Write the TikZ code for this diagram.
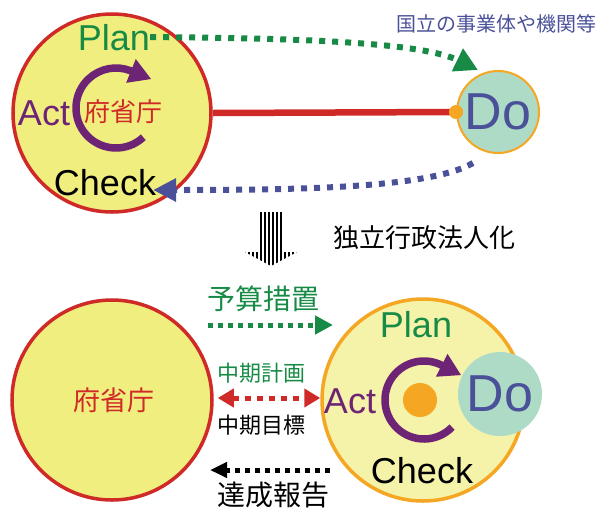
\documentclass[tikz,border=0pt]{standalone}
\usepackage{fontspec}
\setmainfont{Liberation Sans}
\newfontfamily\jpfont{Noto Sans CJK JP}
\usetikzlibrary{arrows.meta}
\definecolor{cyellow}{HTML}{F1EE80}
\definecolor{lyellow}{HTML}{F5F3A9}
\definecolor{cred}{HTML}{CF2A27}
\definecolor{cgreen}{HTML}{178B45}
\definecolor{cpurple}{HTML}{6E2474}
\definecolor{cblue}{HTML}{4A5199}
\definecolor{corange}{HTML}{F5A623}
\definecolor{cteal}{HTML}{AEDBC6}
\begin{document}
\begin{tikzpicture}[x=1pt,y=-1pt,
  lbl/.style={inner sep=0pt, anchor=base, font=\fontsize{#1pt}{#1pt}\selectfont},
  jtxt/.style={inner sep=0pt, font=\jpfont\fontsize{#1pt}{#1pt}\selectfont},
  bigcircle/.style={circle, line width=3.5pt, inner sep=0pt},
  cyclearrow/.style={cpurple, line width=7.5pt, -{Triangle[length=22pt,width=24pt]}},
  bigdots/.style={line width=6pt, dash pattern=on 6pt off 7pt},
  smalldots/.style={line width=5pt, dash pattern=on 5pt off 5pt}
]
\useasboundingbox (0,0) rectangle (601,509);

% ---------- top part ----------
\node[bigcircle, draw=cred, fill=cyellow, minimum size=198pt] (c1) at (112,113) {};
\draw[cyclearrow] (116,108) ++(47:40) arc[start angle=47, end angle=292, radius=40] -- ++(22:22);
\node[lbl=36, text=cgreen] (plan1) at (114,50) {Plan};
\node[lbl=36, text=cpurple] (act1) at (44,125) {Act};
\node[lbl=36] (check1) at (105,195) {Check};
\node[jtxt=26, text=cred] (fsc1) at (123,112) {府省庁};

\node[circle, draw=corange, line width=2pt, fill=cteal, minimum size=82pt, inner sep=0pt,
      text=cblue, font=\fontsize{52pt}{52pt}\selectfont] (do1) at (498,112) {Do};
\draw[cred, line width=6.5pt] (c1.east) -- (do1.west);
\fill[corange] (do1.west) circle (7);

\node[jtxt=20, text=cblue] (lab1) at (496,24) {国立の事業体や機関等};

\coordinate (g1) at (478,70);
\draw[cgreen, bigdots, -{Triangle[length=23pt,width=24pt]}]
  (plan1.east) .. controls (320,38) and (425,44) .. (g1);

\coordinate (b0) at (473,163);
\coordinate (b1) at (153,190);
\draw[cblue, bigdots, -{Triangle[length=23pt,width=22pt]}]
  (b0) .. controls (430,188) and (300,190) .. (b1);

% ---------- hatched arrow ----------
\begin{scope}
\clip (260,212) -- (282,212) -- (282,252) -- (297,252) -- (271,266) -- (245,252) -- (260,252) -- cycle;
\foreach \x in {245,249,...,297} \draw[line width=1.6pt] (\x,205) -- (\x,270);
\end{scope}
\node[jtxt=26] (t1) at (424,238) {独立行政法人化};

% ---------- bottom part ----------
\node[bigcircle, draw=cred, fill=cyellow, minimum size=200pt] (c2) at (112,400) {};
\node[jtxt=27, text=cred] (fsc2) at (114,400) {府省庁};

\node[bigcircle, draw=corange, fill=lyellow, minimum size=202pt] (c3) at (423,400) {};
\node[circle, fill=corange, minimum size=34pt, inner sep=0pt] (dot2) at (420,400) {};
\draw[cyclearrow] (424,400) ++(44:39) arc[start angle=44, end angle=297, radius=39] -- ++(27:22);
\node[lbl=36, text=cgreen] (plan2) at (416,337) {Plan};
\node[lbl=36, text=cpurple] (act2) at (350,413) {Act};
\node[lbl=36] (check2) at (422,483) {Check};
\node[circle, fill=cteal, minimum size=84pt, inner sep=0pt,
      text=cblue, font=\fontsize{52pt}{52pt}\selectfont] (do2) at (500,394) {Do};

\node[jtxt=28, text=cgreen] (yosan) at (263,299) {予算措置};
\coordinate (ga) at (208,325);
\coordinate (gb) at (333,325);
\draw[cgreen, smalldots, -{Triangle[length=18pt,width=18pt]}] (ga) -- (gb);

\node[jtxt=22, text=cgreen] (keikaku) at (261,373) {中期計画};
\draw[cred, line width=5pt, dash pattern=on 6pt off 6pt,
      {Triangle[length=16pt,width=18pt]}-{Triangle[length=16pt,width=18pt]}]
  ([xshift=4pt,yshift=2pt]c2.east) -- ([yshift=2pt]c3.west);
\node[jtxt=22] (mokuhyo) at (261,425) {中期目標};

\coordinate (ka) at (330,470);
\coordinate (kb) at (210,470);
\draw[black, smalldots, -{Triangle[length=17pt,width=15pt]}] (ka) -- (kb);
\node[jtxt=28] (tassei) at (273,495) {達成報告};
\end{tikzpicture}
\end{document}
